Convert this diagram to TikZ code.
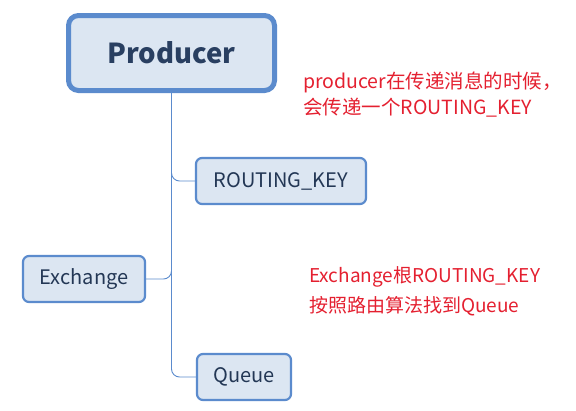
\documentclass[tikz,border=0pt]{standalone}
\usepackage{fontspec}
\setmainfont{Noto Sans CJK SC}
\definecolor{boxline}{RGB}{91,139,205}
\definecolor{boxfill}{RGB}{220,230,242}
\definecolor{boxtext}{RGB}{35,55,85}
\definecolor{notered}{RGB}{228,32,48}
\begin{document}
\begin{tikzpicture}[x=1pt,y=-1pt,
    topic/.style={draw=boxline,fill=boxfill,text=boxtext,rounded corners=6pt,
      line width=2.2pt,inner sep=0pt,font=\fontsize{20}{22}\selectfont},
    link/.style={draw=boxline,line width=0.9pt,rounded corners=8pt},
    note/.style={text=notered,anchor=west,align=left,inner sep=0pt}]
  \useasboundingbox (0,0) rectangle (576,410);
  \node[topic,line width=5pt,rounded corners=10pt,minimum width=206pt,minimum height=75pt,
    font=\fontsize{27.5}{30}\selectfont\bfseries,text=boxtext!90!boxline] (prod) at (171.5,53) {Producer};
  \node[topic,minimum width=170pt,minimum height=46pt] (key) at (281,181) {ROUTING\_KEY};
  \node[topic,minimum width=122pt,minimum height=46pt] (ex) at (84,279) {Exchange};
  \node[topic,minimum width=94pt,minimum height=46pt] (queue) at (244,377) {Queue};
  \draw[link] (prod.south) |- (key.west);
  \draw[link] (prod.south) |- (queue.west);
  \draw[link] (ex.east) -| (prod.south);
  \node[note,font=\fontsize{19.5}{26}\selectfont] (note1) at (303,95)
    {producer在传递消息的时候，\\会传递一个ROUTING\_KEY};
  \node[note,font=\fontsize{19}{30}\selectfont] (note2) at (309,291)
    {Exchange根ROUTING\_KEY\\按照路由算法找到Queue};
\end{tikzpicture}
\end{document}
